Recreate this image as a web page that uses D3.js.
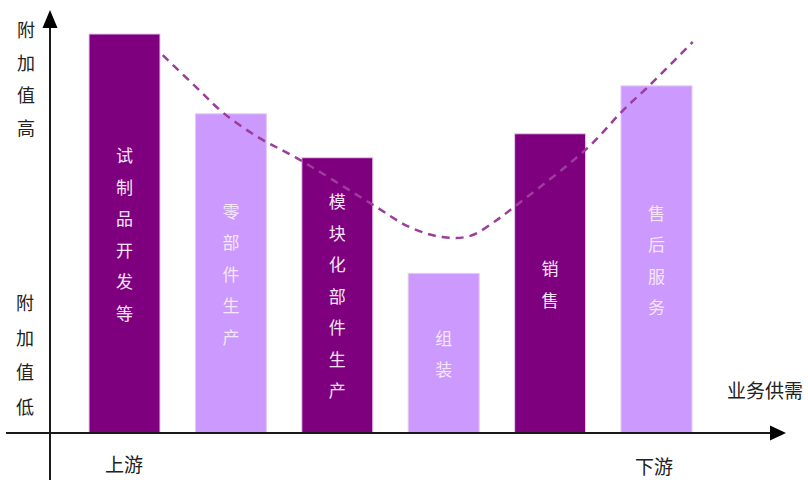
<!DOCTYPE html>
<html><head><meta charset="utf-8">
<script src="https://cdn.jsdelivr.net/npm/d3@7"></script>
<style>body{margin:0;background:#fff}svg{display:block}</style>
</head><body><svg id="c" width="808" height="480"></svg>
<script>
// ---- data ----
const categories = ["试制品开发等","零部件生产","模块化部件生产","组装","销售","售后服务"];
const values = [100, 80, 69, 40, 75, 87];
const barTypes = ["dark","light","dark","light","dark","light"];
// smile curve: position in category-index units, value in same units as bars
const curveX = [0.36, 0.68, 0.93, 1.27, 1.62, 2.31, 2.68, 2.99, 3.25, 3.5, 3.65, 4.35, 4.69, 4.91, 5.34];
const curveY = [94.7, 86.5, 80.2, 73.9, 68.9, 57.6, 51.6, 49.1, 49.4, 53.4, 56.4, 71.4, 81.0, 86.5, 98.0];
const yLabelHigh = "附加值高";
const yLabelLow = "附加值低";
const xLabelStart = "上游";
const xLabelEnd = "下游";
const xAxisTitle = "业务供需";

// ---- layout ----
const svg = d3.select("#c");
const baseY = 433, axisX = 50;
const y = d3.scaleLinear().domain([0, 100]).range([baseY, 34]);
const x = d3.scaleBand().domain(categories).range([71.3, 709.7]).paddingInner(0.333).paddingOuter(0.1665);
const xi = d3.scaleLinear().domain([0, 5]).range([x(categories[0]) + x.bandwidth()/2, x(categories[5]) + x.bandwidth()/2]);
const colors = {dark: "#7F007F", light: "#CC99FF"};
const font = "'Noto Sans CJK SC', sans-serif";

// bars
svg.append("g").selectAll("rect").data(categories).join("rect")
  .attr("x", d => x(d)).attr("y", (d,i) => y(values[i]))
  .attr("width", x.bandwidth()).attr("height", (d,i) => baseY - y(values[i]))
  .attr("fill", (d,i) => colors[barTypes[i]])
  .attr("stroke", "#e8c8f0").attr("stroke-width", 1);

// bar labels (vertical)
const step = 31.5;
categories.forEach((c, i) => {
  const cx = x(c) + x.bandwidth()/2;
  const cy = (y(values[i]) + baseY) / 2;
  const chars = Array.from(c);
  const start = cy - (chars.length - 1) * step / 2;
  svg.append("g").selectAll("text").data(chars).join("text")
    .attr("x", cx).attr("y", (d,k) => start + k*step)
    .attr("text-anchor", "middle").attr("dominant-baseline", "central")
    .attr("font-family", font).attr("font-size", 17)
    .attr("fill", "#f4e6f8").text(d => d);
});

// dashed curve
const pts = curveX.map((v,i) => [xi(v), y(curveY[i])]);
svg.append("path").attr("d", d3.line().curve(d3.curveCatmullRom.alpha(0.5))(pts))
  .attr("fill", "none").attr("stroke", "#9B3D9B").attr("stroke-width", 2.5)
  .attr("stroke-dasharray", "8,6");

// axes
const axColor = "#1a1a1a";
svg.append("line").attr("x1", 6).attr("x2", 772).attr("y1", baseY).attr("y2", baseY)
  .attr("stroke", axColor).attr("stroke-width", 2);
svg.append("path").attr("d", `M770,${baseY-7.5}L786,${baseY}L770,${baseY+7.5}Z`).attr("fill", "#000");
svg.append("line").attr("x1", axisX).attr("x2", axisX).attr("y1", 480).attr("y2", 26)
  .attr("stroke", axColor).attr("stroke-width", 2);
svg.append("path").attr("d", `M${axisX-7.5},28L${axisX},10L${axisX+7.5},28Z`).attr("fill", "#000");

// left labels
function vText(str, cx, startY, sp) {
  svg.append("g").selectAll("text").data(Array.from(str)).join("text")
    .attr("x", cx).attr("y", (d,k) => startY + k*sp)
    .attr("text-anchor", "middle").attr("dominant-baseline", "central")
    .attr("font-family", font).attr("font-size", 18).attr("fill", "#222").text(d => d);
}
vText(yLabelHigh, 26, 29, 32.5);
vText(yLabelLow, 25, 302, 34.5);

svg.append("text").attr("x", 124).attr("y", 463).attr("text-anchor","middle").attr("dominant-baseline","central")
  .attr("font-family", font).attr("font-size", 19).attr("fill", "#222").text(xLabelStart);
svg.append("text").attr("x", 654).attr("y", 465).attr("text-anchor","middle").attr("dominant-baseline","central")
  .attr("font-family", font).attr("font-size", 19).attr("fill", "#222").text(xLabelEnd);
svg.append("text").attr("x", 765).attr("y", 389).attr("text-anchor","middle").attr("dominant-baseline","central")
  .attr("font-family", font).attr("font-size", 19).attr("fill", "#222").text(xAxisTitle);
</script></body></html>
